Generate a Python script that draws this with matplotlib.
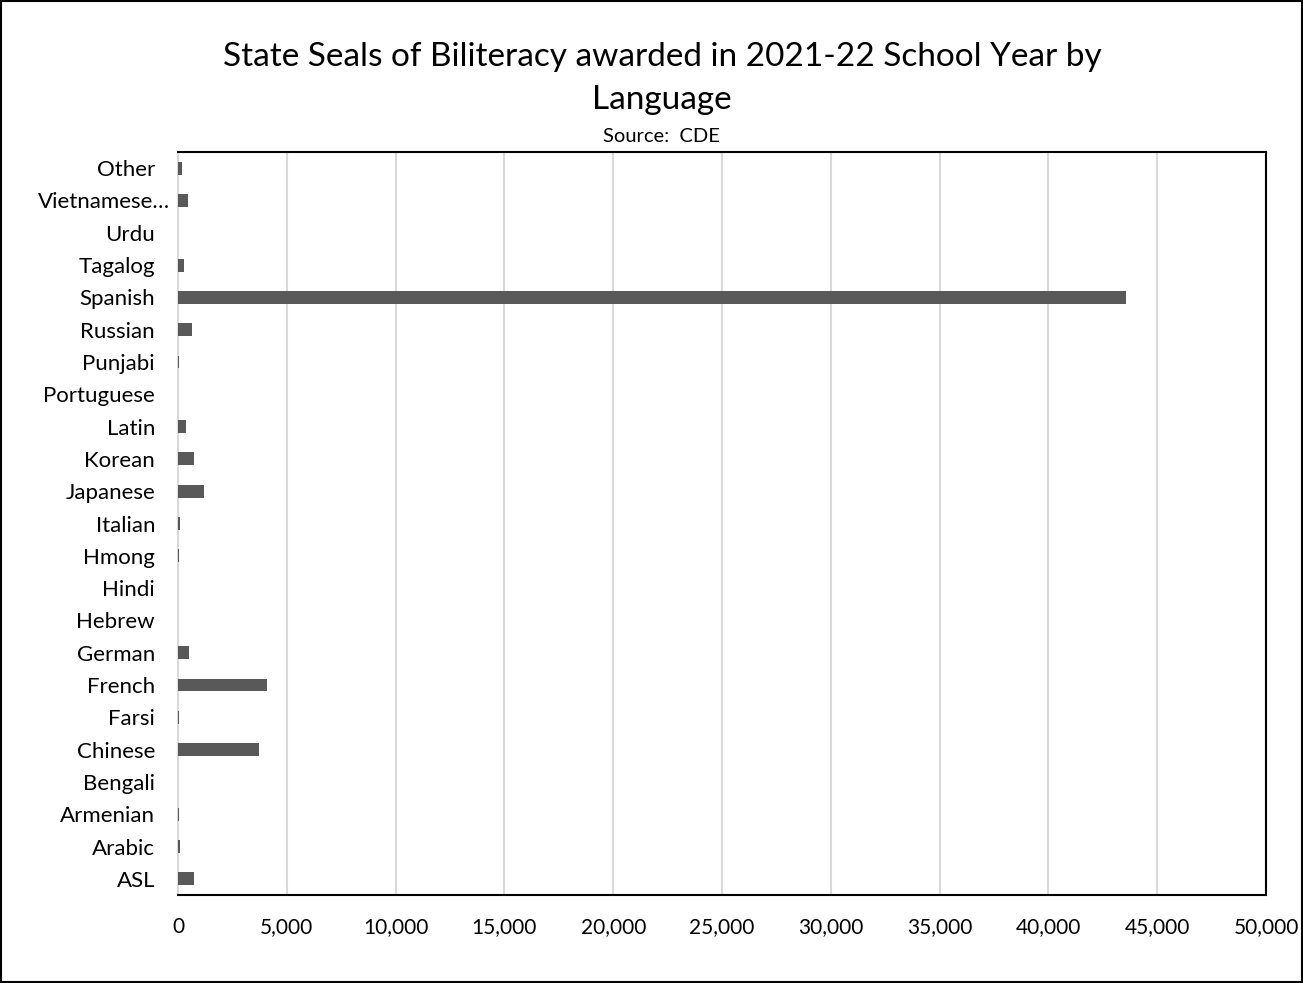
import matplotlib.pyplot as plt
from matplotlib.patches import Rectangle
from matplotlib.ticker import FuncFormatter

# Languages listed bottom to top, as on the chart
languages = ['ASL', 'Arabic', 'Armenian', 'Bengali', 'Chinese', 'Farsi', 'French',
             'German', 'Hebrew', 'Hindi', 'Hmong', 'Italian', 'Japanese', 'Korean',
             'Latin', 'Portuguese', 'Punjabi', 'Russian', 'Spanish', 'Tagalog',
             'Urdu', 'Vietnamese…', 'Other']
seals = [720, 80, 50, 0, 3700, 50, 4080,
         500, 0, 0, 30, 100, 1210, 720,
         350, 0, 50, 630, 43550, 290,
         0, 460, 200]

x_ticks = [0, 5000, 10000, 15000, 20000, 25000, 30000, 35000, 40000, 45000, 50000]

plt.rcParams['font.family'] = ['Lato', 'DejaVu Sans']

fig = plt.figure(figsize=(13.03, 9.83), dpi=100)
ax = fig.add_axes([178 / 1303, 1 - 895 / 983, (1266 - 178) / 1303, (895 - 152) / 983])

ax.barh(range(len(languages)), seals, height=0.4, color='#595959', zorder=3)

ax.set_xlim(0, 50000)
ax.set_ylim(-0.5, len(languages) - 0.5)
ax.set_yticks(range(len(languages)))

# the truncated label sits a little further right, like in the original
long_idx = languages.index('Vietnamese…')
ax.set_yticklabels(['' if i == long_idx else lab for i, lab in enumerate(languages)],
                   fontsize=16)
ax.text(-8 / 1088, long_idx, languages[long_idx], transform=ax.get_yaxis_transform(),
        ha='right', va='center_baseline', fontsize=16)

ax.set_xticks(x_ticks)
ax.xaxis.set_major_formatter(FuncFormatter(lambda v, p: f'{int(v):,}'))
ax.tick_params(axis='x', labelsize=15, length=0, pad=16)
ax.tick_params(axis='y', length=0, pad=16.5)

ax.grid(axis='x', color='#d9d9d9', linewidth=1.5, zorder=0)
for side in ['top', 'right', 'bottom']:
    ax.spines[side].set_color('black')
    ax.spines[side].set_linewidth(1.5)
ax.spines['left'].set_color('#d9d9d9')
ax.spines['left'].set_linewidth(1.5)

fig.text(662 / 1303, 1 - 57 / 983, 'State Seals of Biliteracy awarded in 2021-22 School Year by',
         ha='center', va='center', fontsize=24)
fig.text(662 / 1303, 1 - 100 / 983, 'Language', ha='center', va='center', fontsize=24)
fig.text(661 / 1303, 1 - 137 / 983, 'Source:  CDE', ha='center', va='center', fontsize=14.5)

# outer chart border
fig.patches.append(Rectangle((0.0008, 0.001), 0.9984, 0.998, transform=fig.transFigure,
                             fill=False, edgecolor='black', linewidth=1.5))

fig.savefig('out.png', dpi=100)
